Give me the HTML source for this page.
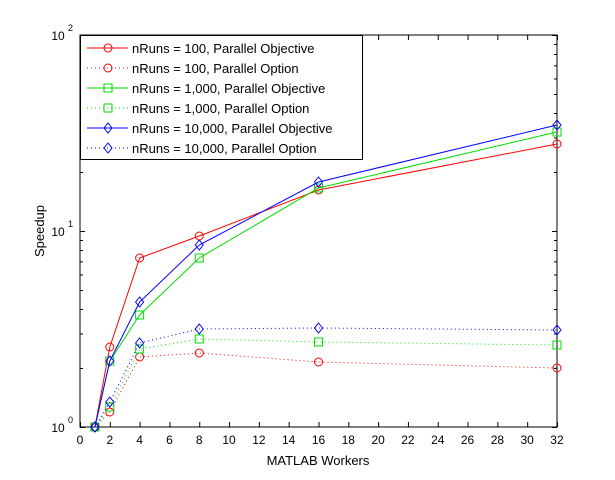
<!DOCTYPE html>
<html><head><meta charset="utf-8"><style>
html,body{margin:0;padding:0;background:#fff;}
svg{display:block;font-family:"Liberation Sans",Arial,sans-serif;}
</style></head><body>
<svg id="s" width="615" height="480" xmlns="http://www.w3.org/2000/svg">
<rect x="0" y="0" width="615" height="480" fill="#fff"/>
<rect x="80" y="35" width="477" height="392" fill="#fff" stroke="#000" stroke-width="1"/>
<g id="ticks" stroke="#000" stroke-width="1"></g>
<g id="lbl" font-size="12" fill="#000"></g>
<g id="series" fill="none" stroke-width="1"></g>
<text x="318" y="465" font-size="13" text-anchor="middle">MATLAB Workers</text>
<text transform="translate(44,231) rotate(-90)" font-size="13" text-anchor="middle">Speedup</text>
<g id="leg"></g>
</svg>
<script>
const NS="http://www.w3.org/2000/svg";
function el(p,t,a,txt){const e=document.createElementNS(NS,t);for(const k in a)e.setAttribute(k,a[k]);if(txt!=null)e.textContent=txt;document.getElementById(p).appendChild(e);return e;}
const X=v=>80+v*14.906, Y=v=>427-196*Math.log10(v);
for(let v=0;v<=32;v+=2){const x=X(v)+0.5;
 el('ticks','line',{x1:x,y1:427,x2:x,y2:422});el('ticks','line',{x1:x,y1:35,x2:x,y2:40});
 el('lbl','text',{x:X(v),y:444,'text-anchor':'middle'},String(v));}
for(let d=0;d<2;d++)for(let m=1;m<=10;m++){const v=m*Math.pow(10,d);const y=Y(v)+0.5;const L=(m==1||m==10)?5:3;
 el('ticks','line',{x1:80,y1:y,x2:80+L,y2:y});el('ticks','line',{x1:557,y1:y,x2:557-L,y2:y});}
[[0,427],[1,231],[2,35]].forEach(([p,y])=>{el('lbl','text',{x:58,y:y+5,'text-anchor':'middle'},'10');
 el('lbl','text',{x:68,y:y-4,'font-size':'9'},String(p));});
const xs=[1,2,4,8,16,32];
const S=[
 ['red','m',[427,347,258,236,190,144],'o','nRuns = 100, Parallel Objective'],
 ['red','d',[427,412,357,353,362,368],'o','nRuns = 100, Parallel Option'],
 ['#00dd00','m',[427,361,315,258,188,132],'s','nRuns = 1,000, Parallel Objective'],
 ['#00dd00','d',[427,407,349,339,342,345],'s','nRuns = 1,000, Parallel Option'],
 ['blue','m',[427,361,302,245,182,125],'d','nRuns = 10,000, Parallel Objective'],
 ['blue','d',[427,402,343,329,328,330],'d','nRuns = 10,000, Parallel Option']];
function mk(g,c,t,x,y){if(t=='o')el(g,'circle',{cx:x,cy:y,r:4,stroke:c,fill:'none'});
 else if(t=='s')el(g,'rect',{x:x-4,y:y-4,width:8,height:8,stroke:c,fill:'none'});
 else el(g,'polygon',{points:`${x},${y-5} ${x+4},${y} ${x},${y+5} ${x-4},${y}`,stroke:c,fill:'none'});}
S.forEach(([c,st,ys,m])=>{const pts=xs.map((v,i)=>X(v)+','+ys[i]).join(' ');
 const a={points:pts,stroke:c,fill:'none'};if(st=='d')a['stroke-dasharray']='1,3';el('series','polyline',a);
 xs.forEach((v,i)=>mk('series',c,m,X(v),ys[i]));});
el('leg','rect',{x:80.5,y:35.5,width:282,height:124,fill:'#fff',stroke:'#000'});
S.forEach(([c,st,ys,m,t],i)=>{const y=48+i*20;const a={x1:87,y1:y,x2:128,y2:y,stroke:c};if(st=='d')a['stroke-dasharray']='1,3';
 el('leg','line',a);mk('leg',c,m,108,y);el('leg','text',{x:132,y:y+5,'font-size':'13'},t);});
</script>
</body></html>
